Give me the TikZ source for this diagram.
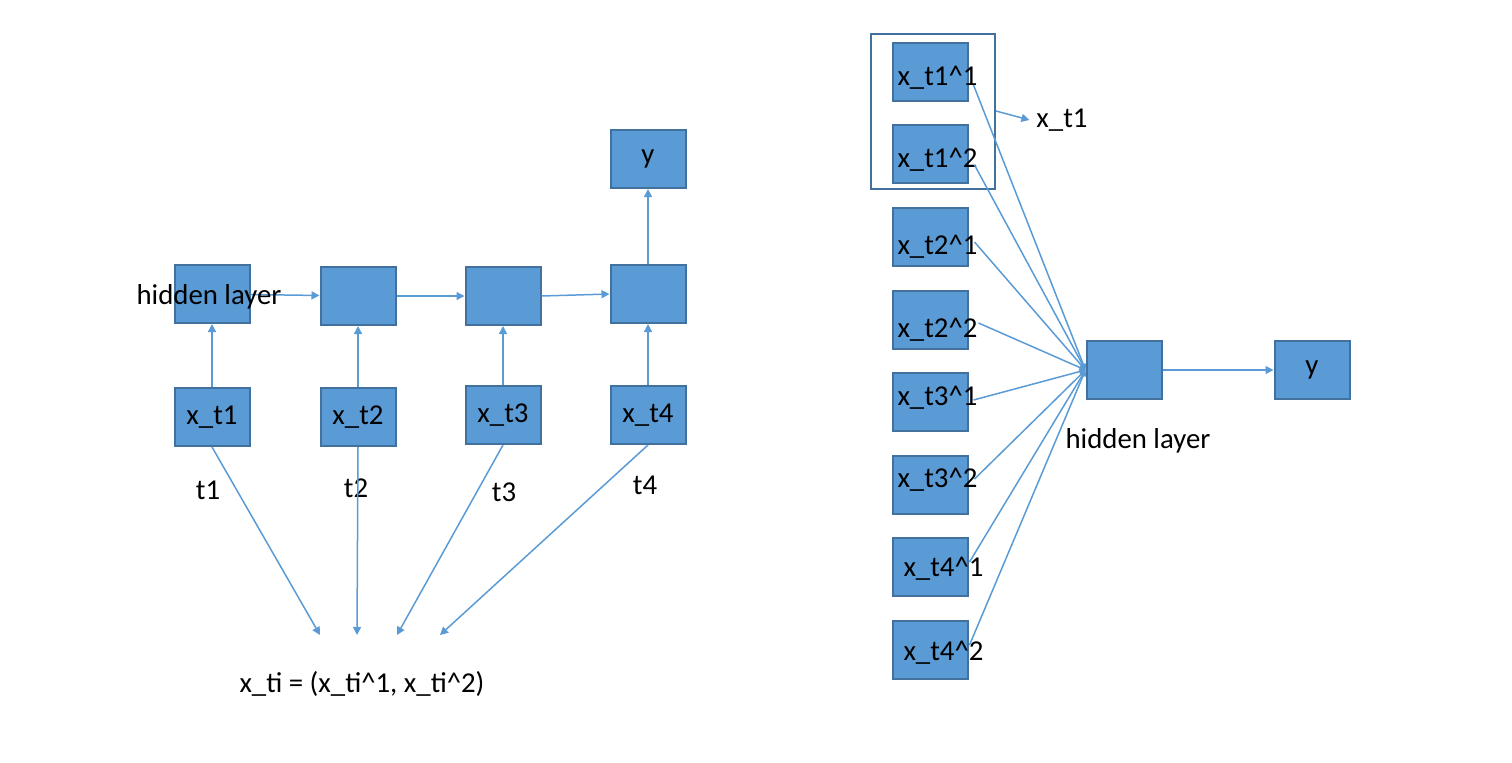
\documentclass[tikz,border=0pt]{standalone}
\usepackage{fontspec}
\setmainfont{Carlito}
\usetikzlibrary{arrows.meta, positioning}
\definecolor{boxblue}{RGB}{91,155,213}
\definecolor{edgeblue}{RGB}{65,113,156}
\newcommand{\crt}{\textasciicircum}
\newcommand{\ftext}[2]{\smash{\raisebox{-#1pt}{#2}}}

\begin{document}
\begin{tikzpicture}[
    x=0.5pt, y=-0.5pt,
    font=\fontsize{14.4}{17}\selectfont,
    box/.style={rectangle, draw=edgeblue, fill=boxblue, line width=1pt,
                minimum width=37.5pt, minimum height=29pt, inner sep=0pt},
    featbox/.style={box, text width=32.5pt, inner xsep=2.5pt, align=left},
    frame/.style={rectangle, draw=edgeblue, line width=1pt,
                  minimum width=62pt, minimum height=77.5pt},
    arr/.style={-{Triangle[length=4pt,width=4pt]}, line width=0.75pt, color=boxblue},
    lnk/.style={-{Triangle[length=3pt,width=3pt]}, line width=0.75pt, color=boxblue}
]
\useasboundingbox (0,0) rectangle (1512,762);

\node[box] (h1) at (212,294) {};
\node[box] (h2) at (358,296) {};
\node[box] (h3) at (503,296) {};
\node[box] (h4) at (648,294) {};
\node[box] (yL) at (648,159) {y};
\node[box] (x1) at (212,417) {x\_t1};
\node[box] (x2) at (358,417) {x\_t2};
\node[box] (x3) at (503,415) {x\_t3};
\node[box] (x4) at (648,415) {x\_t4};
\node (t1) at (208,490) {t1};
\node (t2) at (356,488) {t2};
\node (t3) at (504,492) {t3};
\node (t4) at (645,485) {t4};
\coordinate (p1) at (320,635);
\coordinate (p2) at (357,635);
\coordinate (p3) at (397,635);
\coordinate (p4) at (440,635);
\node (formula) at (362,684) {x\_ti = (x\_ti\crt1, x\_ti\crt2)};

\draw[arr] (x1) -- (h1);
\draw[arr] (x2) -- (h2);
\draw[arr] (x3) -- (h3);
\draw[arr] (x4) -- (h4);
\draw[arr] (h1) -- (h2);
\draw[arr] (h2) -- (h3);
\draw[arr] (h3.east) -- (h4.west);
\draw[arr] (h4) -- (yL);
\draw[arr] (x1.south) -- (p1);
\draw[arr] (x2.south) -- (p2);
\draw[arr] (x3.south) -- (p3);
\draw[arr] (x4.south) -- (p4);
\node (hlabL) at (209,297) {hidden layer};

\node[frame] (grp) at (933,111) {};
\node[featbox] (f11) at (930,72) {\ftext{6.5}{x\_t1\crt1}};
\node[featbox] (f12) at (930,154) {\ftext{6.5}{x\_t1\crt2}};
\node[featbox] (f21) at (930,237) {\ftext{8.7}{x\_t2\crt1}};
\node[featbox] (f22) at (930,320) {\ftext{8.5}{x\_t2\crt2}};
\node[featbox] (f31) at (930,402) {\ftext{1.5}{x\_t3\crt1}};
\node[featbox] (f32) at (930,485) {\ftext{1}{x\_t3\crt2}};
\node[featbox] (f41) at (930,567) {\ftext{4.5}{\hspace{3pt}x\_t4\crt1}};
\node[featbox] (f42) at (930,650) {\ftext{5}{\hspace{3pt}x\_t4\crt2}};
\node (xt1) at (1062,120) {x\_t1};
\node[box] (hR) at (1124,370) {};
\node[box] (yR) at (1312,370) {y};
\node (hlabR) at (1138,441) {hidden layer};

\draw[arr] (grp.east) -- (xt1.west);
\foreach \f/\dx/\dy in {f11/2.5/-6.5, f12/3/-5.5, f21/3/-2.5, f22/5/-1.5,
                        f31/2.5/1, f32/3/3, f41/0.5/2.5, f42/0.5/2.5}
  \draw[lnk] ([xshift=\dx pt,yshift=\dy pt]\f.east) -- (hR.west);
\draw[arr] (hR) -- (yR);
\end{tikzpicture}
\end{document}
